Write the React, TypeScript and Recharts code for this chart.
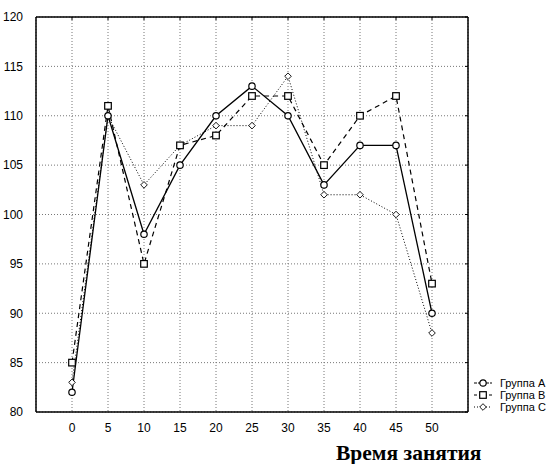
import React from 'react';
import { LineChart, Line, XAxis, YAxis, CartesianGrid } from 'recharts';

const times = [0, 5, 10, 15, 20, 25, 30, 35, 40, 45, 50];
const groupA = [82, 110, 98, 105, 110, 113, 110, 103, 107, 107, 90];
const groupB = [85, 111, 95, 107, 108, 112, 112, 105, 110, 112, 93];
const groupC = [83, 110, 103, 107, 109, 109, 114, 102, 102, 100, 88];
const yTicks = [80, 85, 90, 95, 100, 105, 110, 115, 120];
const seriesNames = ['Группа A', 'Группа B', 'Группа C'];

const data = times.map((t, i) => ({ t, a: groupA[i], b: groupB[i], c: groupC[i] }));

const tickFont = { fontFamily: '"Liberation Sans", Arial, sans-serif', fontSize: 12, fill: '#000' };

const Circle = ({ cx, cy }: any) => (
    <circle cx={cx} cy={cy} r={3.2} fill="#fff" stroke="#000" strokeWidth={1.2} />
);
const Square = ({ cx, cy }: any) => (
    <rect x={cx - 3.3} y={cy - 3.3} width={6.6} height={6.6} fill="#fff" stroke="#000" strokeWidth={1.2} />
);
const Diamond = ({ cx, cy }: any) => (
    <polygon
        points={`${cx},${cy - 3.3} ${cx + 3.3},${cy} ${cx},${cy + 3.3} ${cx - 3.3},${cy}`}
        fill="#fff"
        stroke="#000"
        strokeWidth={0.9}
    />
);

const markers = [Circle, Square, Diamond];
const dashes = ['3 1', '3 2', '1 2'];

const renderDot = (Marker: any, prefix: string) => (p: any) => {
    if (p.cx == null || p.cy == null) return <g key={`${prefix}-${p.index}`} />;
    return <Marker key={`${prefix}-${p.index}`} cx={p.cx} cy={p.cy} />;
};

const LegendBox = () => (
    <svg width={82} height={38} style={{ position: 'absolute', left: 472, top: 377 }}>
        {seriesNames.map((name, i) => {
            const Marker = markers[i];
            const y = 6 + i * 12;
            return (
                <g key={name}>
                    <line x1={2} x2={20} y1={y} y2={y} stroke="#000" strokeWidth={1} strokeDasharray={dashes[i]} />
                    <Marker cx={11} cy={y} />
                    <text x={28} y={y + 4} style={{ ...tickFont, fontSize: 11 }}>{name}</text>
                </g>
            );
        })}
    </svg>
);

export default function App() {
    return (
        <div style={{ position: 'absolute', left: 0, top: 0, width: 553, height: 464, background: '#fff' }}>
            <LineChart width={553} height={464} data={data} margin={{ top: 17, right: 85, left: 0, bottom: 0 }}>
                <CartesianGrid stroke="#777" strokeDasharray="1 2" />
                <XAxis
                    dataKey="t"
                    type="number"
                    domain={[-5, 55]}
                    ticks={times}
                    height={52}
                    tickLine={false}
                    axisLine={{ stroke: '#000', strokeWidth: 1.5 }}
                    tick={tickFont}
                    tickMargin={5}
                />
                <XAxis
                    xAxisId="top"
                    dataKey="t"
                    type="number"
                    orientation="top"
                    mirror
                    domain={[-5, 55]}
                    ticks={times}
                    tickSize={3}
                    tickFormatter={() => ''}
                    axisLine={{ stroke: '#000', strokeWidth: 1.5 }}
                    tickLine={{ stroke: '#000' }}
                />
                <YAxis
                    domain={[80, 120]}
                    ticks={yTicks}
                    width={36}
                    tickLine={false}
                    axisLine={{ stroke: '#000', strokeWidth: 1.5 }}
                    tick={tickFont}
                    tickMargin={7}
                    interval={0}
                />
                <YAxis
                    yAxisId="right"
                    orientation="right"
                    mirror
                    domain={[80, 120]}
                    ticks={yTicks}
                    tickSize={3}
                    tickFormatter={() => ''}
                    axisLine={{ stroke: '#000', strokeWidth: 1.5 }}
                    tickLine={{ stroke: '#000' }}
                    allowDataOverflow
                />
                <Line
                    dataKey="c"
                    name={seriesNames[2]}
                    stroke="#000"
                    strokeWidth={1}
                    strokeDasharray="1 2"
                    dot={renderDot(Diamond, 'c')}
                    isAnimationActive={false}
                />
                <Line
                    dataKey="b"
                    name={seriesNames[1]}
                    stroke="#000"
                    strokeWidth={1.2}
                    strokeDasharray="5 4"
                    dot={renderDot(Square, 'b')}
                    isAnimationActive={false}
                />
                <Line
                    dataKey="a"
                    name={seriesNames[0]}
                    stroke="#000"
                    strokeWidth={1.3}
                    dot={renderDot(Circle, 'a')}
                    isAnimationActive={false}
                />
            </LineChart>
            <LegendBox />
            <div
                style={{
                    position: 'absolute',
                    left: 336,
                    top: 441,
                    fontFamily: '"Liberation Serif", "Times New Roman", serif',
                    fontWeight: 'bold',
                    fontSize: 21.5,
                    lineHeight: '24px',
                    whiteSpace: 'nowrap',
                }}
            >
                Время занятия
            </div>
        </div>
    );
}
